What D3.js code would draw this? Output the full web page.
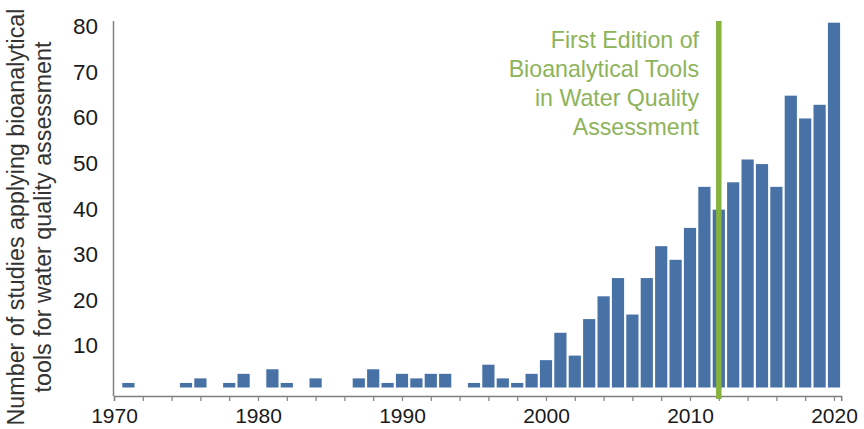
<!DOCTYPE html>
<html>
<head>
<meta charset="utf-8">
<script src="https://cdn.jsdelivr.net/npm/d3@7"></script>
<style>
  body { margin: 0; background: #fff; }
  svg { display: block; font-family: "Liberation Sans", Arial, sans-serif; }
</style>
</head>
<body>
<div id="chart"></div>
<script>
const years = [1971, 1975, 1976, 1978, 1979, 1981, 1982, 1984, 1987, 1988, 1989, 1990, 1991, 1992, 1993,
               1995, 1996, 1997, 1998, 1999, 2000, 2001, 2002, 2003, 2004, 2005, 2006, 2007, 2008, 2009,
               2010, 2011, 2012, 2013, 2014, 2015, 2016, 2017, 2018, 2019, 2020];
const studies = [1, 1, 2, 1, 3, 4, 1, 2, 2, 4, 1, 3, 2, 3, 3,
                 1, 5, 2, 1, 3, 6, 12, 7, 15, 20, 24, 16, 24, 31, 28,
                 35, 44, 39, 45, 50, 49, 44, 64, 59, 62, 80];
const yTicks = [10, 20, 30, 40, 50, 60, 70, 80];
const xLabelYears = [1970, 1980, 1990, 2000, 2010, 2020];
const editionYear = 2012;
const annotation = ["First Edition of", "Bioanalytical Tools", "in Water Quality", "Assessment"];
const yTitle = ["Number of studies applying bioanalytical", "tools for water quality assessment"];

const width = 864, height = 429;
const barW = 12.2;

const svg = d3.select("#chart").append("svg")
    .attr("width", width)
    .attr("height", height)
    .attr("viewBox", [0, 0, width, height]);

const x = d3.scaleLinear().domain([1970, 2020.5]).range([114, 841.2]);
const y = d3.scaleLinear().domain([0, 80]).range([387.5, 22.7]);

const data = years.map((yr, i) => ({year: yr, value: studies[i]}));

// bars
svg.append("g")
    .attr("fill", "#4872a6")
  .selectAll("rect")
  .data(data)
  .join("rect")
    .attr("x", d => x(d.year) - barW / 2)
    .attr("width", barW)
    .attr("y", d => y(d.value))
    .attr("height", d => y(0) - y(d.value));

// x axis, sits a little below the bar baseline
svg.append("g")
    .attr("transform", "translate(0,396)")
    .call(d3.axisBottom(x)
        .tickValues(d3.range(1970, 2021, 2))
        .tickSize(5)
        .tickSizeOuter(5)
        .tickFormat(d => xLabelYears.includes(d) ? d : ""))
    .call(g => g.select(".domain").attr("stroke", "#808080").attr("stroke-width", 1.5))
    .call(g => g.selectAll(".tick line").attr("stroke", "#808080").attr("stroke-width", 1.2))
    .call(g => g.selectAll(".tick text")
        .attr("fill", "#1a1a1a")
        .attr("font-size", 21)
        .attr("dy", 0)
        .attr("y", 27));

// y axis: plain line plus labels
svg.append("line")
    .attr("x1", 113.5).attr("x2", 113.5)
    .attr("y1", 21).attr("y2", 396)
    .attr("stroke", "#808080")
    .attr("stroke-width", 1.5);

svg.append("g")
  .selectAll("text")
  .data(yTicks)
  .join("text")
    .attr("x", 98)
    .attr("y", d => y(d) + 11.5)
    .attr("text-anchor", "end")
    .attr("fill", "#1a1a1a")
    .attr("font-size", 22.5)
    .text(d => d);

// y title, two rotated lines
svg.append("g")
    .attr("transform", "translate(0,217) rotate(-90)")
  .selectAll("text")
  .data(yTitle)
  .join("text")
    .attr("x", 0)
    .attr("y", (d, i) => 24 + i * 27)
    .attr("text-anchor", "middle")
    .attr("fill", "#333")
    .attr("font-size", 23.3)
    .text(d => d);

// edition marker
svg.append("line")
    .attr("x1", x(editionYear)).attr("x2", x(editionYear))
    .attr("y1", 21).attr("y2", 399)
    .attr("stroke", "#86b23e")
    .attr("stroke-width", 5.5);

svg.append("g")
  .selectAll("text")
  .data(annotation)
  .join("text")
    .attr("x", 699)
    .attr("y", (d, i) => 48 + i * 29)
    .attr("text-anchor", "end")
    .attr("fill", "#8db35a")
    .attr("font-size", 23.2)
    .text(d => d);
</script>
</body>
</html>
